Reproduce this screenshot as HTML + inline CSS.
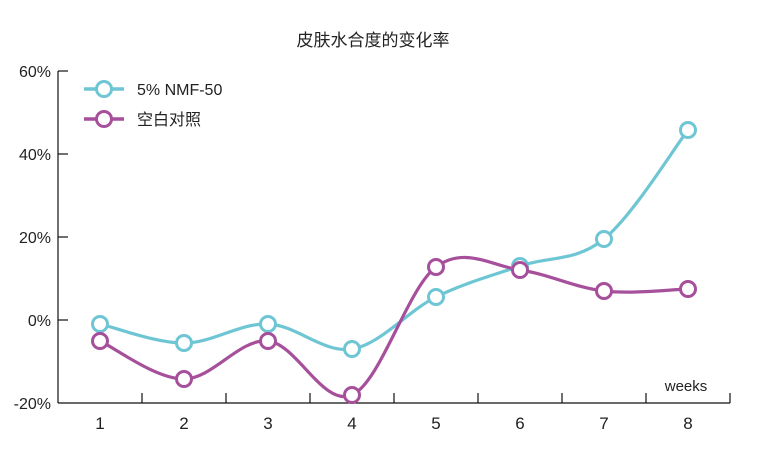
<!DOCTYPE html><html><head><meta charset="utf-8"><style>
body{margin:0;background:#fff;}
svg text{font-family:"Liberation Sans","Noto Sans CJK SC",sans-serif;fill:#222;}
</style></head><body>
<svg id="s" width="762" height="457" xmlns="http://www.w3.org/2000/svg">
<text x="373" y="46" font-size="17" text-anchor="middle">皮肤水合度的变化率</text>
<g stroke="#111" stroke-width="1.2" fill="none">
<line x1="58" y1="71" x2="58" y2="403"/>
<line x1="58" y1="403" x2="730" y2="403"/>
<line x1="58" y1="71" x2="68" y2="71"/>
<line x1="58" y1="154" x2="68" y2="154"/>
<line x1="58" y1="237" x2="68" y2="237"/>
<line x1="58" y1="320" x2="68" y2="320"/>
<line x1="142" y1="403" x2="142" y2="393"/>
<line x1="226" y1="403" x2="226" y2="393"/>
<line x1="310" y1="403" x2="310" y2="393"/>
<line x1="394" y1="403" x2="394" y2="393"/>
<line x1="478" y1="403" x2="478" y2="393"/>
<line x1="562" y1="403" x2="562" y2="393"/>
<line x1="646" y1="403" x2="646" y2="393"/>
<line x1="730" y1="403" x2="730" y2="393"/>
</g>
<g font-size="16" text-anchor="end">
<text x="51" y="77">60%</text><text x="51" y="160">40%</text><text x="51" y="243">20%</text><text x="51" y="326">0%</text><text x="51" y="409">-20%</text>
</g>
<g font-size="17" text-anchor="middle">
<text x="100" y="429">1</text><text x="184" y="429">2</text><text x="268" y="429">3</text><text x="352" y="429">4</text><text x="436" y="429">5</text><text x="520" y="429">6</text><text x="604" y="429">7</text><text x="688" y="429">8</text>
</g>
<text x="686" y="391" font-size="15" text-anchor="middle">weeks</text>
<line x1="84" y1="89" x2="124" y2="89" stroke="#6ec6d4" stroke-width="3.5"/>
<circle cx="104" cy="89" r="7.5" fill="#fff" stroke="#6ec6d4" stroke-width="3"/>
<text x="137" y="95" font-size="16">5% NMF-50</text>
<line x1="84" y1="119" x2="124" y2="119" stroke="#a64f9a" stroke-width="3.5"/>
<circle cx="104" cy="119" r="7.5" fill="#fff" stroke="#a64f9a" stroke-width="3"/>
<text x="137" y="125" font-size="16">空白对照</text>
<g id="series"></g>
</svg>
<script>
var xs=[100,184,268,352,436,520,604,688];
var A=[324,343,324,349,297,266,239,130];
var B=[341,379,341,395,267,270,291,289];
function path(ys){
 var d="M"+xs[0]+","+ys[0];
 for(var i=0;i<xs.length-1;i++){
  var p0=i>0?i-1:i,p3=i+2<xs.length?i+2:i+1,t=0.17;
  var c1x=xs[i]+(xs[i+1]-xs[p0])*t,c1y=ys[i]+(ys[i+1]-ys[p0])*t;
  var c2x=xs[i+1]-(xs[p3]-xs[i])*t,c2y=ys[i+1]-(ys[p3]-ys[i])*t;
  if(i==0){c1y=ys[i]+(ys[i+1]-ys[i])*t;}
  if(i+2>=xs.length){c2y=ys[i+1]-(ys[i+1]-ys[i])*t;}
  d+=" C"+c1x+","+c1y+" "+c2x+","+c2y+" "+xs[i+1]+","+ys[i+1];
 }
 return d;
}
var g=document.getElementById("series"),h="";
[[A,"#6ec6d4"],[B,"#a64f9a"]].forEach(function(s){
 h+='<path d="'+path(s[0])+'" fill="none" stroke="'+s[1]+'" stroke-width="3.2"/>';
});
[[A,"#6ec6d4"],[B,"#a64f9a"]].forEach(function(s){
 for(var i=0;i<8;i++)h+='<circle cx="'+xs[i]+'" cy="'+s[0][i]+'" r="7.5" fill="#fff" stroke="'+s[1]+'" stroke-width="3"/>';
});
g.innerHTML=h;
</script>
</body></html>
